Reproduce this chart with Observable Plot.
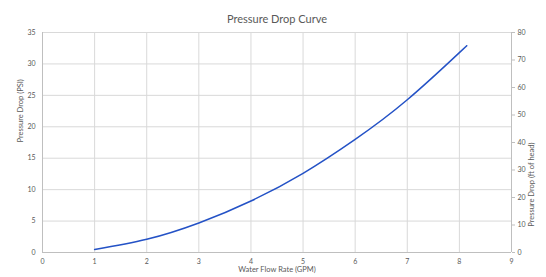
<!DOCTYPE html>
<html>
<head>
<meta charset="utf-8">
<script src="https://cdn.jsdelivr.net/npm/d3@7"></script>
<script src="https://cdn.jsdelivr.net/npm/@observablehq/plot@0.6"></script>
<style>
  html, body { margin: 0; padding: 0; background: #fff; }
  svg { display: block; }
</style>
</head>
<body>
<div id="chart"></div>
<script>
const flow = [1, 2, 3, 4, 5, 6, 7, 8, 8.1];
const psi = [0.48, 2.1, 4.7, 8.2, 12.6, 18.0, 24.3, 31.8, 32.58];
const xTicks = [0, 1, 2, 3, 4, 5, 6, 7, 8, 9];
const psiTicks = [0, 5, 10, 15, 20, 25, 30, 35];
const ftTicks = [0, 10, 20, 30, 40, 50, 60, 70, 80];
const ftMax = 80, psiMax = 35;

const data = flow.map((f, i) => ({flow: f, psi: psi[i]}));
const gray = "#595959";
const grid = "#d9d9d9";

const chart = Plot.plot({
  width: 546,
  height: 277,
  marginLeft: 42,
  marginRight: 35,
  marginTop: 32,
  marginBottom: 25,
  style: {fontFamily: "Lato, 'Open Sans', sans-serif", fontSize: "7px", color: gray, background: "#fff"},
  x: {domain: [0, 9]},
  y: {domain: [0, psiMax]},
  marks: [
    Plot.gridX(xTicks, {stroke: grid, strokeOpacity: 1}),
    Plot.gridY(psiTicks, {stroke: grid, strokeOpacity: 1}),
    Plot.ruleX([0, 9], {stroke: "#bfbfbf"}),
    Plot.ruleY([0], {stroke: "#bfbfbf"}),
    Plot.axisX(xTicks, {tickSize: 0, tickPadding: 7, label: null, fill: gray}),
    Plot.axisY(psiTicks, {anchor: "left", tickSize: 0, tickPadding: 7, label: null, fill: gray}),
    Plot.axisY(ftTicks.map(f => f * psiMax / ftMax), {
      anchor: "right", tickSize: 3, tickPadding: 3, stroke: "#bfbfbf", label: null, fill: gray,
      tickFormat: d => String(Math.round(d * ftMax / psiMax))
    }),
    Plot.line(data, {x: "flow", y: "psi", stroke: "#2452c6", strokeWidth: 1.5, curve: "natural"}),
    Plot.text(["Pressure Drop Curve"], {frameAnchor: "top", dy: -17, fontSize: 11, fill: gray}),
    Plot.text(["Water Flow Rate (GPM)"], {frameAnchor: "bottom", dy: 19, fontSize: 7.5, fill: gray}),
    Plot.text(["Pressure Drop (PSI)"], {frameAnchor: "left", dx: -22, rotate: -90, fontSize: 7.5, fill: gray}),
    Plot.text(["Pressure Drop (ft of head)"], {frameAnchor: "right", dx: 20, rotate: -90, fontSize: 7.5, fill: gray})
  ]
});
document.getElementById("chart").appendChild(chart);
</script>
</body>
</html>
